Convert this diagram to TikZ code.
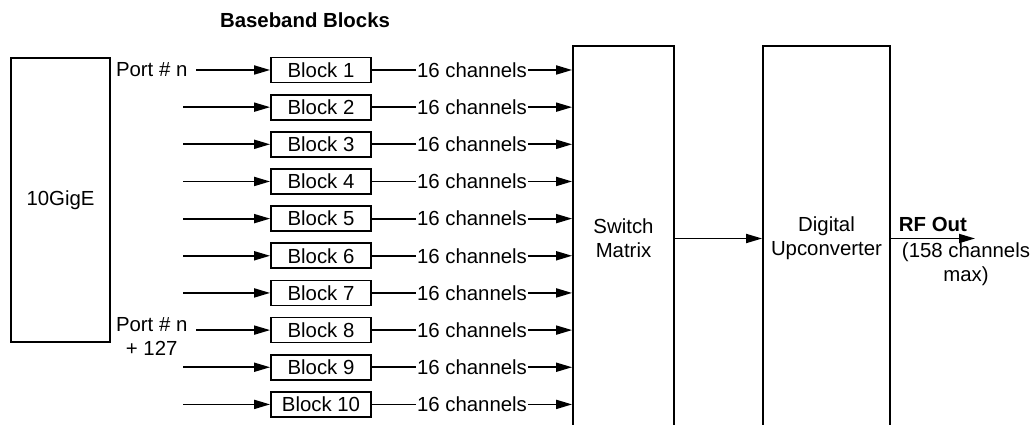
\documentclass[tikz,border=0pt]{standalone}
\usepackage{fontspec}
\setmainfont{Liberation Sans}
\usetikzlibrary{arrows.meta, positioning}

\begin{document}
\begin{tikzpicture}[
  font=\fontsize{11.6}{13.6}\selectfont,
  node distance=0.208cm,
  box/.style={draw, line width=1pt, align=center, inner sep=0pt},
  block/.style={box, minimum width=2cm, minimum height=0.5cm},
  tall/.style={box, minimum height=7.7cm},
  lbl/.style={fill=white, inner sep=0.5pt},
  head/.style={font=\fontsize{11.6}{13.6}\selectfont\bfseries},
  arr/.style={-{Triangle[length=0.32cm, width=0.18cm]}, line width=1pt},
]
\clip (0,0) rectangle (20.68,-8.5);

\node[box, minimum width=1.98cm, minimum height=5.68cm] (gige) at (1.21,-4.0) {10GigE};
\node[head] (title) at (6.1,-0.4) {Baseband Blocks};

\node[block] (b1) at (6.42,-1.4) {Block 1};
\node[block, below=of b1] (b2) {Block 2};
\node[block, below=of b2] (b3) {Block 3};
\node[block, below=of b3] (b4) {Block 4};
\node[block, below=of b4] (b5) {Block 5};
\node[block, below=of b5] (b6) {Block 6};
\node[block, below=of b6] (b7) {Block 7};
\node[block, below=of b7] (b8) {Block 8};
\node[block, below=of b8] (b9) {Block 9};
\node[block, below=of b9] (b10) {Block 10};

\node[tall, minimum width=2.02cm] (switch) at (12.47,-4.77) {Switch\\Matrix};
\node[tall, minimum width=2.54cm] (duc) at (16.53,-4.77) {Digital\\Upconverter};
\coordinate (rfout) at (19.5,-4.77);

% inputs and outputs of the baseband blocks
\foreach \i/\len in {1/1.48, 2/1.74, 3/1.74, 4/1.74, 5/1.74, 6/1.74, 7/1.74, 8/1.48, 9/1.74, 10/1.74} {
  \coordinate (in\i) at ([xshift=-\len cm]b\i.west);
  \draw[arr] (in\i) -- (b\i);
  \draw[arr] (b\i) -- node[lbl]{16 channels} (b\i -| switch.west);
}

\node[left=0.05cm of in1] (port1) {Port \# n};
\node[left=0.05cm of in8, yshift=-0.12cm, align=center] (port8) {Port \# n\\+ 127};

\draw[arr] (switch) -- (duc);
\draw[arr] (duc) -- node[above, head]{RF Out} (rfout);
\node[align=center] (rfnote) at (19.32,-5.29) {(158 channels\\max)};

\end{tikzpicture}
\end{document}
